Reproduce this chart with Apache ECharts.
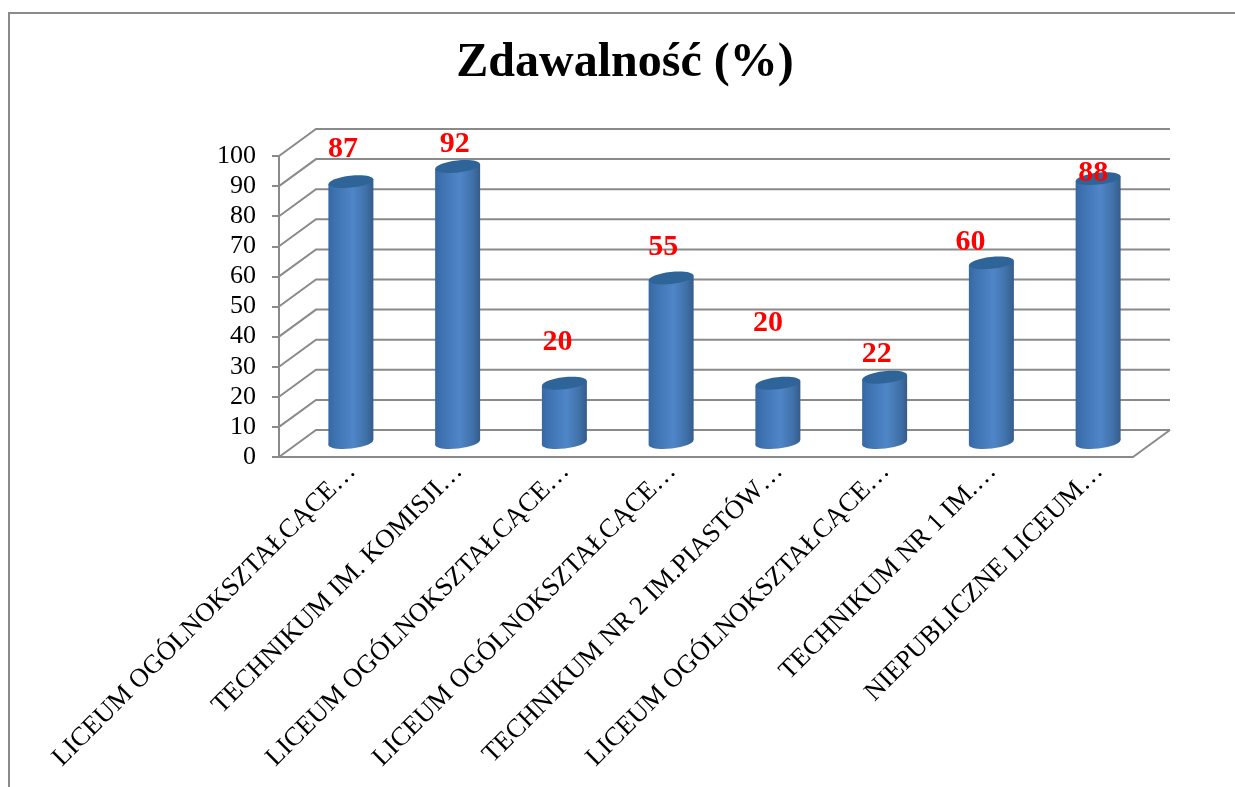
<!DOCTYPE html>
<html>
<head>
<meta charset="utf-8">
<script src="https://cdn.jsdelivr.net/npm/echarts@6/dist/echarts.min.js"></script>
<style>
	html, body { margin: 0; padding: 0; background: #fff; }
	#chart { width: 1235px; height: 787px; }
</style>
</head>
<body>
<div id="chart"></div>
<script>
	const categories = [
		'LICEUM OGÓLNOKSZTAŁCĄCE…',
		'TECHNIKUM IM. KOMISJI…',
		'LICEUM OGÓLNOKSZTAŁCĄCE…',
		'LICEUM OGÓLNOKSZTAŁCĄCE…',
		'TECHNIKUM NR 2 IM.PIASTÓW…',
		'LICEUM OGÓLNOKSZTAŁCĄCE…',
		'TECHNIKUM NR 1 IM.…',
		'NIEPUBLICZNE LICEUM…'
	]
	const values = [87, 92, 20, 55, 20, 22, 60, 88]
	const wallTicks = [0, 10, 20, 30, 40, 50, 60, 70, 80, 90, 100]
	// labels were moved by hand in the original chart
	const labelShiftX = [-8, -3, -7, -8, -10, -8, -21, -5]
	const labelShiftY = [-32, -22, -41, -31, -60, -23, -21, -5]

	// fake 3d depth of the plot box
	const DEPTH_X = 37
	const DEPTH_Y = -27
	const BAR_RX = 22.5
	const BAR_RY = 6
	const TILT = 0.11
	const LINE = '#8a8a8a'

	const barFill = () => new echarts.graphic.LinearGradient(0, 0, 1, 0, [
		{ offset: 0, color: '#3768a4' },
		{ offset: 0.2, color: '#4075b5' },
		{ offset: 0.55, color: '#4f86c8' },
		{ offset: 0.85, color: '#3f6fa6' },
		{ offset: 1, color: '#345c8b' }
	])

	const renderWall = (params, api) => {
		const v = api.value(1)
		const band = api.size([1, 0])[0]
		const left = api.coord([0, v])
		const right = api.coord([categories.length - 1, v])
		const x0 = left[0] - band / 2
		const x1 = right[0] + band / 2
		const y = left[1]
		const style = { stroke: LINE, lineWidth: 2, fill: 'none' }
		const children = [{
			type: 'polyline',
			shape: { points: [[x0, y], [x0 + DEPTH_X, y + DEPTH_Y], [x1 + DEPTH_X, y + DEPTH_Y]] },
			style: style
		}]
		// floor right edge
		if (v === 0) {
			children.push({
				type: 'line',
				shape: { x1: x1, y1: y, x2: x1 + DEPTH_X, y2: y + DEPTH_Y },
				style: style
			})
		}
		return { type: 'group', children: children }
	}

	const renderBar = (params, api) => {
		const i = params.dataIndex
		const v = api.value(1)
		const top = api.coord([i, v])
		const base = api.coord([i, 0])
		const cx = top[0] + DEPTH_X / 2
		const yTop = top[1] + DEPTH_Y / 2
		const yBase = base[1] + DEPTH_Y / 2 - 1
		const d = BAR_RX * Math.sin(TILT)
		return {
			type: 'group',
			children: [{
				type: 'ellipse',
				originX: cx,
				originY: yBase,
				rotation: TILT,
				shape: { cx: cx, cy: yBase, rx: BAR_RX, ry: BAR_RY },
				style: { fill: barFill() }
			}, {
				type: 'polygon',
				shape: {
					points: [
						[cx - BAR_RX, yTop + d],
						[cx + BAR_RX, yTop - d],
						[cx + BAR_RX, yBase - d],
						[cx - BAR_RX, yBase + d]
					]
				},
				style: { fill: barFill() }
			}, {
				type: 'ellipse',
				originX: cx,
				originY: yTop,
				rotation: TILT,
				shape: { cx: cx, cy: yTop, rx: BAR_RX, ry: BAR_RY },
				style: { fill: '#2f6499' }
			}, {
				type: 'text',
				z2: 10,
				x: cx + labelShiftX[i],
				y: yTop + labelShiftY[i],
				style: {
					text: String(values[i]),
					fill: '#ff0000',
					font: 'bold 30px "Liberation Serif"',
					align: 'center',
					verticalAlign: 'middle'
				}
			}]
		}
	}

	const chart = echarts.init(document.getElementById('chart'))
	chart.setOption({
		animation: false,
		title: {
			text: 'Zdawalność (%)',
			left: 620,
			top: 35,
			textAlign: 'center',
			textStyle: {
				fontFamily: 'Liberation Serif',
				fontWeight: 'bold',
				fontSize: 48,
				color: '#000'
			}
		},
		grid: { left: 279, top: 156, width: 854, height: 301, outerBoundsMode: 'none' },
		xAxis: {
			type: 'category',
			data: categories,
			axisLine: { lineStyle: { color: LINE, width: 2 } },
			axisTick: { length: 8, lineStyle: { color: LINE, width: 2 } },
			axisLabel: {
				interval: 0,
				rotate: 45,
				margin: -9,
				lineHeight: 55,
				verticalAlign: 'top',
				fontFamily: 'Liberation Serif',
				fontSize: 26.5,
				color: '#000'
			}
		},
		yAxis: {
			type: 'value',
			min: 0,
			max: 100,
			interval: 10,
			splitLine: { show: false },
			axisLine: { show: true, lineStyle: { color: LINE, width: 2 } },
			axisTick: { show: true, length: 7, lineStyle: { color: LINE, width: 2 } },
			axisLabel: {
				margin: 23,
				fontFamily: 'Liberation Serif',
				fontSize: 26,
				color: '#000'
			}
		},
		series: [{
			type: 'custom',
			z: 1,
			silent: true,
			renderItem: renderWall,
			encode: { x: 0, y: 1 },
			data: wallTicks.map(t => [0, t])
		}, {
			type: 'custom',
			z: 3,
			renderItem: renderBar,
			encode: { x: 0, y: 1 },
			data: values.map((v, i) => [i, v])
		}],
		graphic: [{
			type: 'polyline',
			silent: true,
			shape: { points: [[9, 787], [9, 13], [1235, 13]] },
			style: { stroke: '#8a8a8a', lineWidth: 2, fill: 'none' }
		}]
	})
</script>
</body>
</html>
